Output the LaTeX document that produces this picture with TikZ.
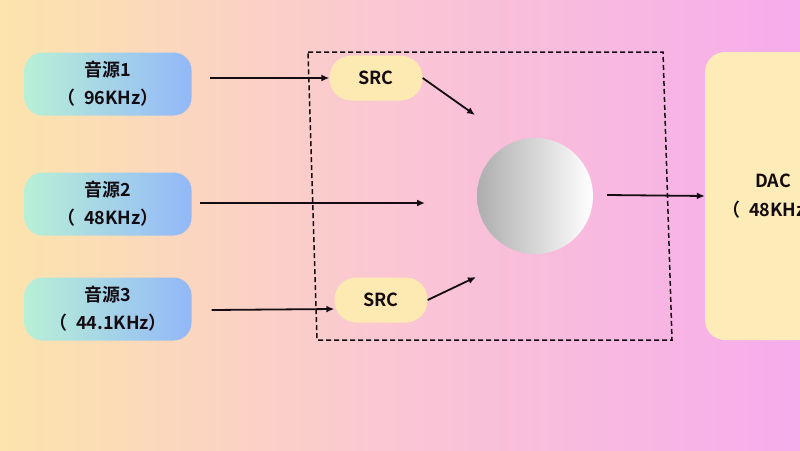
\documentclass[tikz,border=0pt]{standalone}
\usepackage{fontspec}
\newfontfamily\cjk{Noto Sans CJK SC}[BoldFont={Noto Sans CJK SC Bold}]
\usetikzlibrary{arrows.meta}
\definecolor{bgL}{RGB}{252,228,172}
\definecolor{bgM}{RGB}{250,198,212}
\definecolor{bgR}{RGB}{246,172,236}
\definecolor{srcL}{RGB}{184,240,214}
\definecolor{srcR}{RGB}{146,184,248}
\definecolor{pill}{RGB}{252,234,178}
\definecolor{dacfill}{RGB}{253,235,184}
\definecolor{ink}{RGB}{20,12,18}
\tikzset{
  srcbox/.style={rounded corners=18pt, minimum width=167pt, minimum height=63pt,
    left color=srcL, right color=srcR, draw=none, align=center, inner sep=0pt,
    font=\cjk\bfseries\fontsize{18}{28}\selectfont, text=ink},
  pillbox/.style={rounded corners=22pt, minimum width=93pt, minimum height=45pt,
    fill=pill, draw=none, font=\cjk\bfseries\fontsize{18}{20}\selectfont, text=ink},
  conn/.style={-{Latex[length=8pt,width=7pt]}, line width=1.8pt, draw=ink},
}
\begin{document}
\begin{tikzpicture}[x=1pt,y=-1pt]
\useasboundingbox (0,0) rectangle (800,450);
\clip (0,0) rectangle (800,450);
\shade[left color=bgL, right color=bgR, middle color=bgM] (0,0) rectangle (800,450);
% dashed frame
\draw[line width=1.5pt, draw=ink, dash pattern=on 5pt off 3pt] (308,52) -- (663,52) -- (672,340) -- (317,340) -- cycle;
% sources
\node[srcbox] (s1) at (108,84) {音源1\\（\enspace96KHz）};
\node[srcbox] (s2) at (108,204) {音源2\\（\enspace48KHz）};
\node[srcbox] (s3) at (108,309) {音源3\\（\enspace44.1KHz）};
% SRC pills
\node[pillbox] (r1) at (376,78) {SRC};
\node[pillbox] (r2) at (381,300) {SRC};
% mixer circle
\shade[left color=black!32, right color=white] (535,196) circle (58);
\node[circle, minimum size=116pt, inner sep=0pt] (mix) at (535,196) {};
% DAC
\node[rounded corners=20pt, fill=dacfill, minimum width=136pt, minimum height=288pt,
  align=center, font=\cjk\bfseries\fontsize{18}{29}\selectfont, text=ink] (dac) at (773,196) {DAC\\（\enspace48KHz）};
% free ends
\coordinate (e1) at (475,115);
\coordinate (e2) at (425,203);
\coordinate (e3) at (476,277);
% connectors
\draw[conn] ([xshift=18pt,yshift=6pt]s1.east) -- (r1.west);
\draw[conn] ([xshift=8pt,yshift=1pt]s2.east) -- (e2);
\draw[conn] ([xshift=20pt,yshift=-1pt]s3.east) -- ([yshift=-9pt]r2.west);
\draw[conn] (r1.east) -- (e1);
\draw[conn] (r2.east) -- (e3);
\draw[conn] ([xshift=14pt,yshift=1pt]mix.east) -- (dac.west);
\end{tikzpicture}
\end{document}
